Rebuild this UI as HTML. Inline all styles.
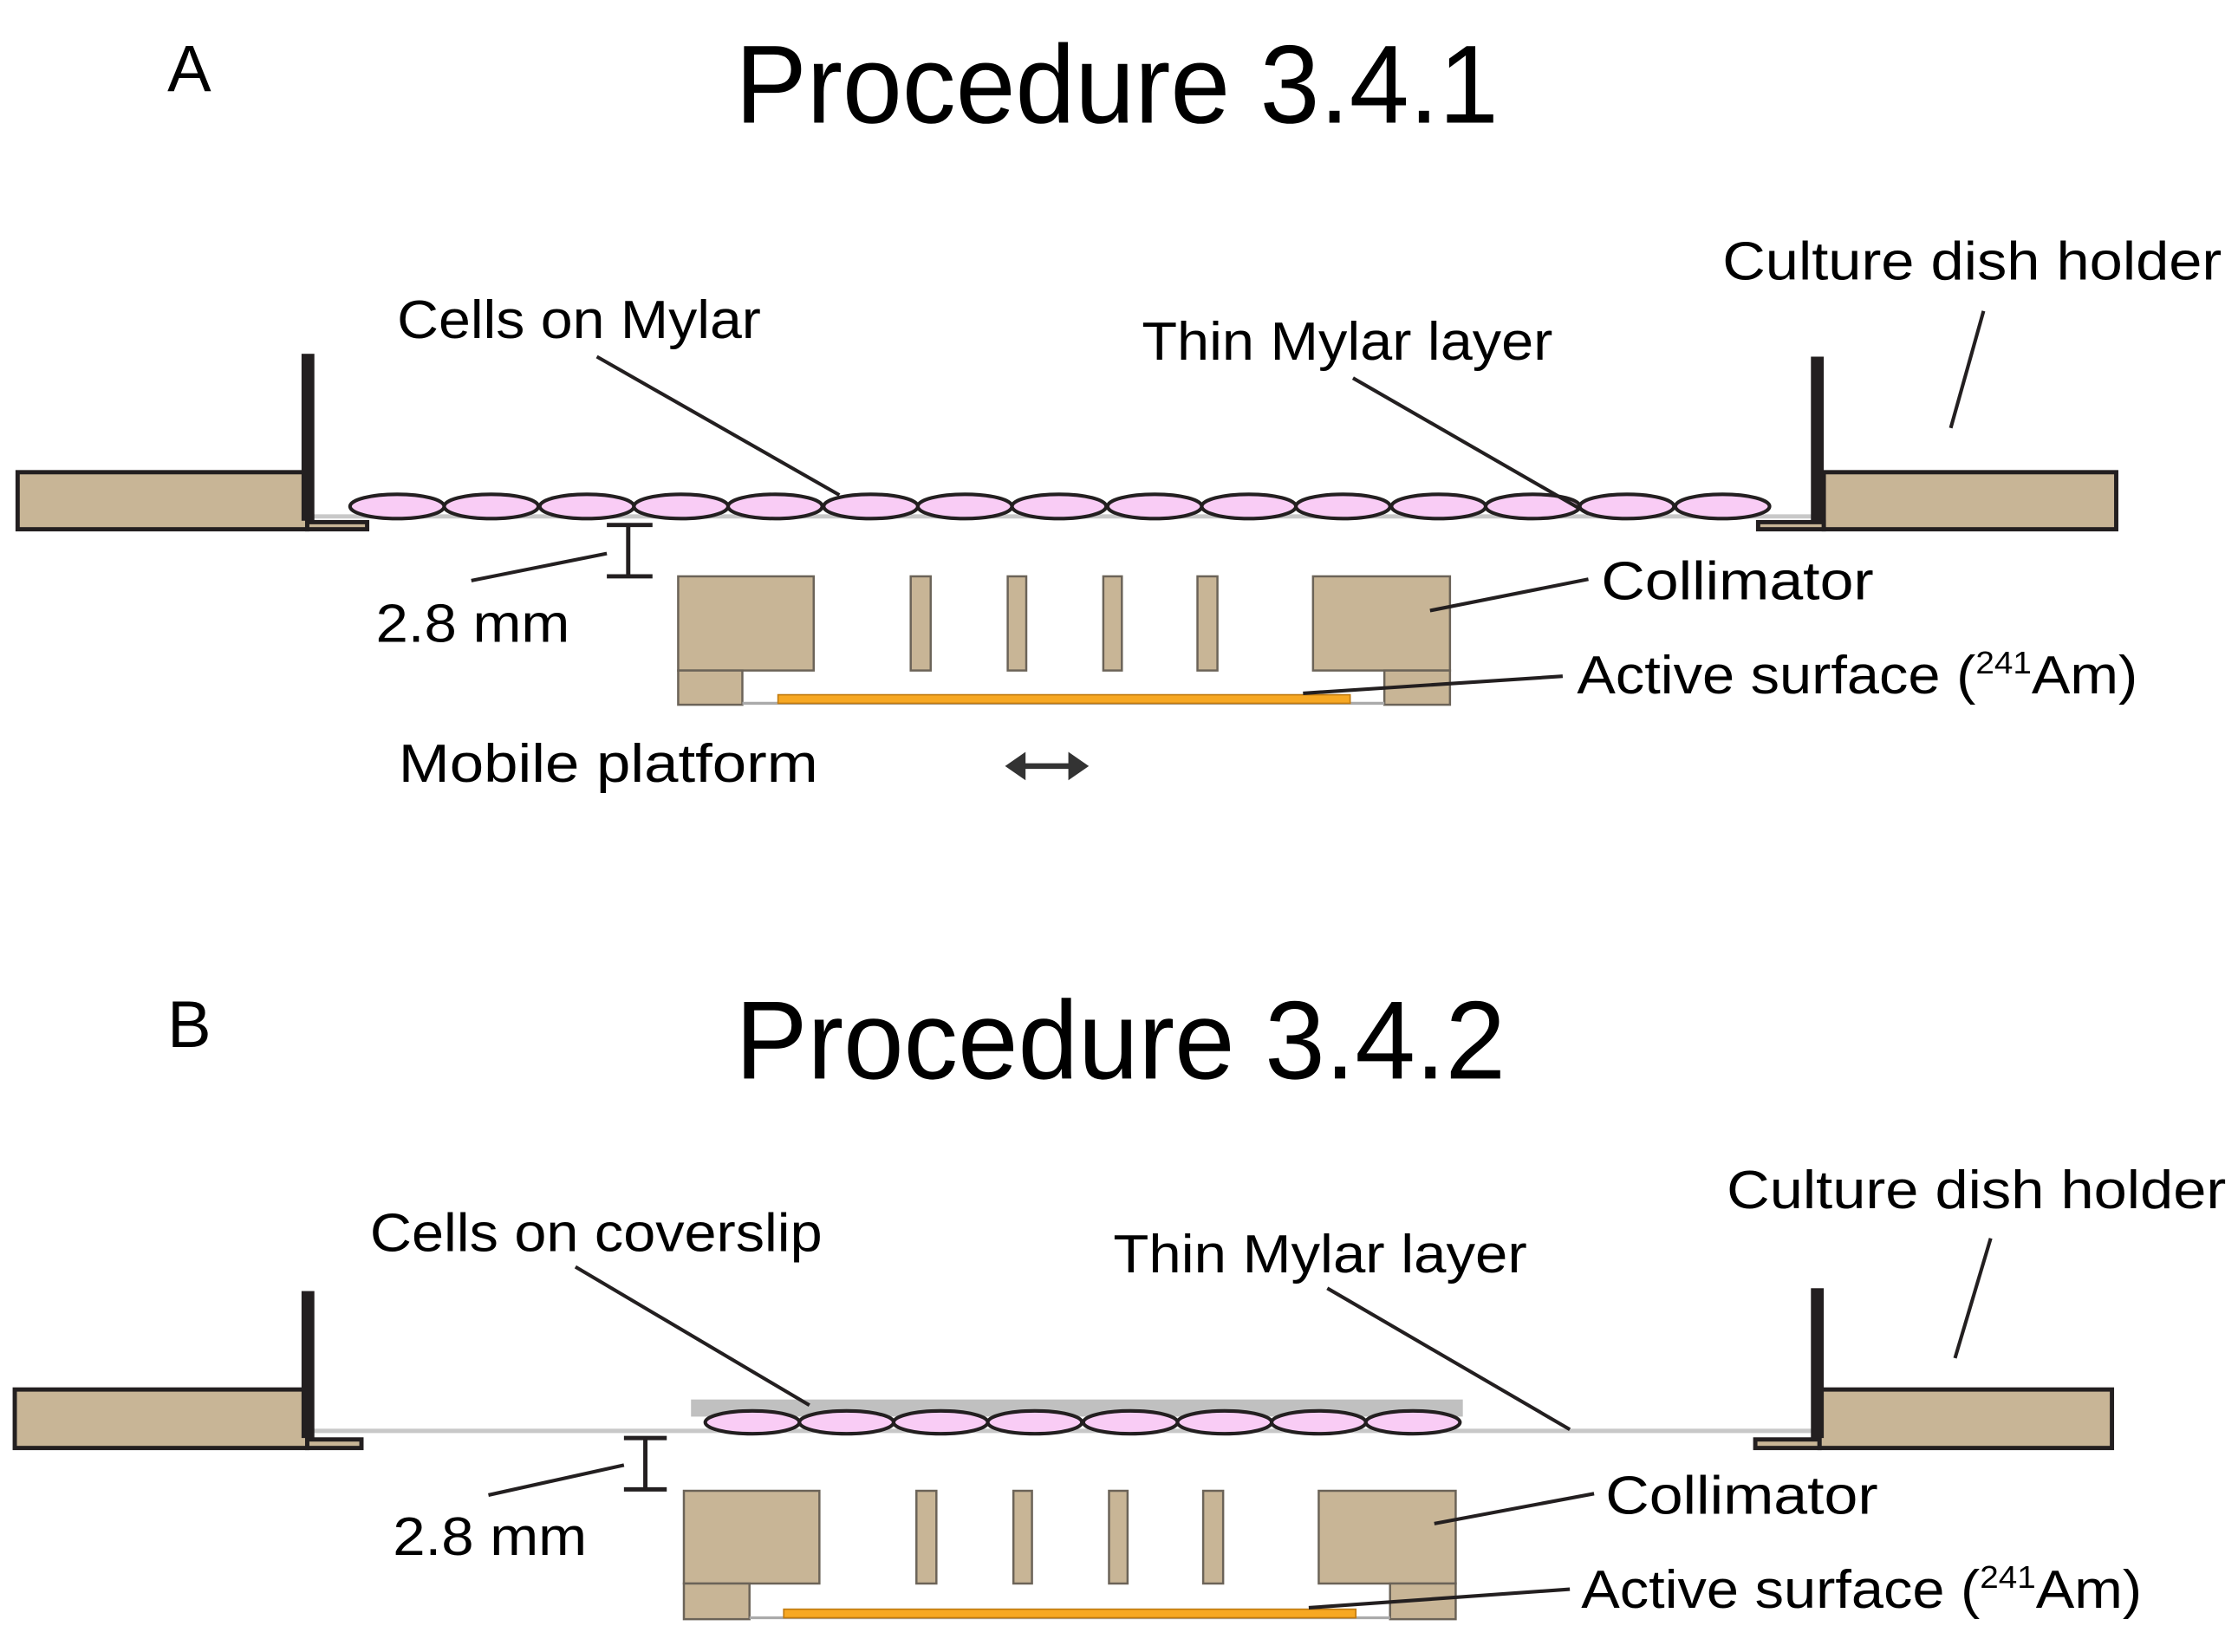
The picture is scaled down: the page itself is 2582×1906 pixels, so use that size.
<!DOCTYPE html>
<html><head><meta charset="utf-8"><style>html,body{margin:0;padding:0;background:#fff}svg{display:block}</style></head>
<body>
<svg width="2582" height="1906" viewBox="0 0 1568 1158" xmlns="http://www.w3.org/2000/svg" font-family="Liberation Sans, sans-serif" fill="#000">
<!-- Panel A -->
<text x="117" y="64" font-size="46">A</text>
<text x="515" y="86" font-size="78" textLength="535" lengthAdjust="spacingAndGlyphs">Procedure 3.4.1</text>

<g stroke="#231f20" stroke-width="3" fill="#c8b596">
<rect x="12" y="331" width="203" height="40"/>
<rect x="215" y="366" width="42" height="5"/>
<rect x="1278" y="331" width="205" height="40"/>
<rect x="1232" y="366" width="46" height="5"/>
</g>
<line x1="215" y1="362" x2="1275" y2="362" stroke="#c8c8c8" stroke-width="3"/>
<rect x="211" y="248" width="9" height="117" fill="#231f20"/>
<rect x="1269" y="250" width="9" height="115" fill="#231f20"/>
<g fill="#f9ccf5" stroke="#231f20" stroke-width="2.5">
<ellipse cx="278" cy="355" rx="33" ry="8.5"/><ellipse cx="344" cy="355" rx="33" ry="8.5"/><ellipse cx="411" cy="355" rx="33" ry="8.5"/><ellipse cx="477" cy="355" rx="33" ry="8.5"/><ellipse cx="543" cy="355" rx="33" ry="8.5"/><ellipse cx="610" cy="355" rx="33" ry="8.5"/><ellipse cx="676" cy="355" rx="33" ry="8.5"/><ellipse cx="742" cy="355" rx="33" ry="8.5"/><ellipse cx="809" cy="355" rx="33" ry="8.5"/><ellipse cx="875" cy="355" rx="33" ry="8.5"/><ellipse cx="941" cy="355" rx="33" ry="8.5"/><ellipse cx="1008" cy="355" rx="33" ry="8.5"/><ellipse cx="1074" cy="355" rx="33" ry="8.5"/><ellipse cx="1140" cy="355" rx="33" ry="8.5"/><ellipse cx="1207" cy="355" rx="33" ry="8.5"/>
</g>
<g fill="#c8b596" stroke="#6b6358" stroke-width="1.5">
<rect x="475" y="404" width="95" height="66"/><rect x="475" y="470" width="45" height="24"/>
<rect x="920" y="404" width="96" height="66"/><rect x="970" y="470" width="46" height="24"/>
<rect x="638" y="404" width="14" height="66"/><rect x="706" y="404" width="13" height="66"/><rect x="773" y="404" width="13" height="66"/><rect x="839" y="404" width="14" height="66"/>
</g>
<line x1="520" y1="493" x2="970" y2="493" stroke="#aaa" stroke-width="2"/>
<rect x="545" y="487" width="401" height="6" fill="#f7a823" stroke="#c07a10" stroke-width="1"/>
<g stroke="#231f20" stroke-width="3">
<line x1="440" y1="368" x2="440" y2="404"/><line x1="425" y1="368" x2="457" y2="368"/><line x1="425" y1="404" x2="457" y2="404"/>
</g>
<g stroke="#231f20" stroke-width="2.5">
<line x1="330" y1="407" x2="425" y2="388"/>
<line x1="418" y1="250" x2="588" y2="347"/>
<line x1="948" y1="265" x2="1113" y2="360"/>
<line x1="1390" y1="218" x2="1367" y2="300"/>
<line x1="1002" y1="428" x2="1113" y2="406"/>
<line x1="913" y1="486" x2="1095" y2="474"/>
</g>
<g font-size="38">
<text x="278" y="237" textLength="255" lengthAdjust="spacingAndGlyphs">Cells on Mylar</text>
<text x="800" y="252" textLength="288" lengthAdjust="spacingAndGlyphs">Thin Mylar layer</text>
<text x="1207" y="196" textLength="350" lengthAdjust="spacingAndGlyphs">Culture dish holder</text>
<text x="263" y="450" textLength="136" lengthAdjust="spacingAndGlyphs">2.8 mm</text>
<text x="1122" y="420" textLength="191" lengthAdjust="spacingAndGlyphs">Collimator</text>
<text x="1105" y="486" textLength="393" lengthAdjust="spacingAndGlyphs">Active surface (<tspan font-size="22" dy="-14">241</tspan><tspan dy="14">Am)</tspan></text>
<text x="279" y="548" textLength="294" lengthAdjust="spacingAndGlyphs">Mobile platform</text>
</g>
<g stroke="#333" stroke-width="4" fill="#333">
<line x1="714" y1="537" x2="754" y2="537"/>
<path d="M705,537 L718,528 L718,546 Z" stroke-width="1"/>
<path d="M762,537 L749,528 L749,546 Z" stroke-width="1"/>
</g>

<!-- Panel B -->
<text x="117" y="734" font-size="46">B</text>
<text x="515" y="756" font-size="78" textLength="540" lengthAdjust="spacingAndGlyphs">Procedure 3.4.2</text>
<g stroke="#231f20" stroke-width="3" fill="#c8b596">
<rect x="10" y="974" width="205" height="41"/>
<rect x="215" y="1009" width="38" height="6"/>
<rect x="1275" y="974" width="205" height="41"/>
<rect x="1230" y="1009" width="45" height="6"/>
</g>
<line x1="219" y1="1003" x2="1272" y2="1003" stroke="#c8c8c8" stroke-width="3"/>
<rect x="211" y="905" width="9" height="103" fill="#231f20"/>
<rect x="1269" y="903" width="9" height="105" fill="#231f20"/>
<rect x="484" y="981" width="541" height="12" fill="#c0c0c0"/>
<g fill="#f9ccf5" stroke="#231f20" stroke-width="2.5">
<ellipse cx="527" cy="997" rx="33" ry="8"/><ellipse cx="593" cy="997" rx="33" ry="8"/><ellipse cx="659" cy="997" rx="33" ry="8"/><ellipse cx="725" cy="997" rx="33" ry="8"/><ellipse cx="792" cy="997" rx="33" ry="8"/><ellipse cx="858" cy="997" rx="33" ry="8"/><ellipse cx="924" cy="997" rx="33" ry="8"/><ellipse cx="990" cy="997" rx="33" ry="8"/>
</g>
<g fill="#c8b596" stroke="#6b6358" stroke-width="1.5">
<rect x="479" y="1045" width="95" height="65"/><rect x="479" y="1110" width="46" height="25"/>
<rect x="924" y="1045" width="96" height="65"/><rect x="974" y="1110" width="46" height="25"/>
<rect x="642" y="1045" width="14" height="65"/><rect x="710" y="1045" width="13" height="65"/><rect x="777" y="1045" width="13" height="65"/><rect x="843" y="1045" width="14" height="65"/>
</g>
<line x1="525" y1="1134" x2="974" y2="1134" stroke="#aaa" stroke-width="2"/>
<rect x="549" y="1128" width="401" height="6" fill="#f7a823" stroke="#c07a10" stroke-width="1"/>
<g stroke="#231f20" stroke-width="3">
<line x1="452" y1="1008" x2="452" y2="1044"/><line x1="437" y1="1008" x2="467" y2="1008"/><line x1="437" y1="1044" x2="467" y2="1044"/>
</g>
<g stroke="#231f20" stroke-width="2.5">
<line x1="342" y1="1048" x2="437" y2="1027"/>
<line x1="403" y1="888" x2="567" y2="985"/>
<line x1="930" y1="903" x2="1100" y2="1002"/>
<line x1="1395" y1="868" x2="1370" y2="952"/>
<line x1="1005" y1="1068" x2="1117" y2="1047"/>
<line x1="917" y1="1127" x2="1100" y2="1114"/>
</g>
<g font-size="38">
<text x="259" y="877" textLength="317" lengthAdjust="spacingAndGlyphs">Cells on coverslip</text>
<text x="780" y="892" textLength="290" lengthAdjust="spacingAndGlyphs">Thin Mylar layer</text>
<text x="1210" y="847" textLength="350" lengthAdjust="spacingAndGlyphs">Culture dish holder</text>
<text x="275" y="1090" textLength="136" lengthAdjust="spacingAndGlyphs">2.8 mm</text>
<text x="1125" y="1061" textLength="191" lengthAdjust="spacingAndGlyphs">Collimator</text>
<text x="1108" y="1127" textLength="393" lengthAdjust="spacingAndGlyphs">Active surface (<tspan font-size="22" dy="-14">241</tspan><tspan dy="14">Am)</tspan></text>
</g>
</svg>
</body></html>
